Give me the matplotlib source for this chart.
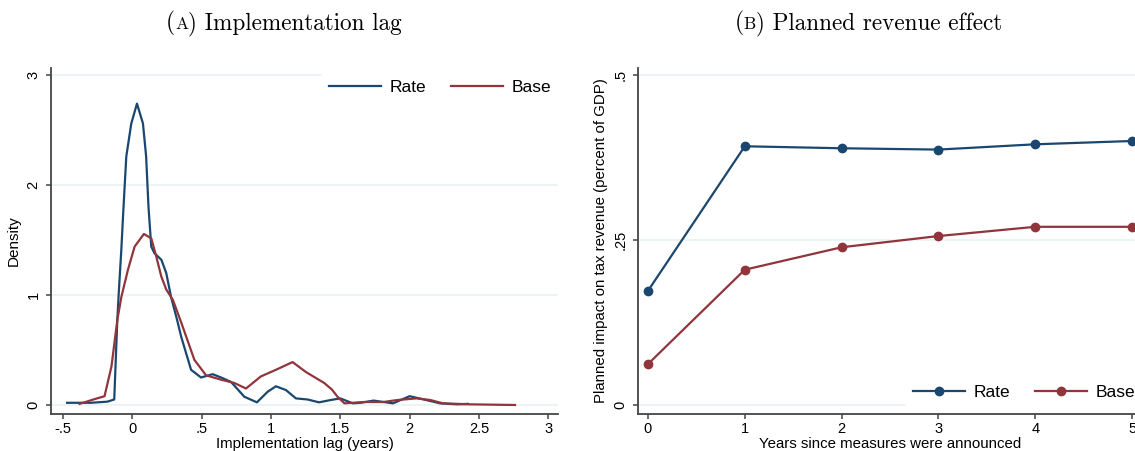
import numpy as np
import matplotlib.pyplot as plt

# ---- data ----
# panel A: kernel densities of the implementation lag
rate_lag_x = [-0.47, -0.3, -0.18, -0.13, -0.108, -0.096, -0.079, -0.063, -0.043, -0.007,
              0.034, 0.077, 0.10, 0.117, 0.137, 0.16, 0.21, 0.245, 0.28, 0.324, 0.353,
              0.424, 0.496, 0.58, 0.64, 0.712, 0.808, 0.899, 0.976, 1.036, 1.108, 1.18,
              1.264, 1.347, 1.43, 1.50, 1.59, 1.647, 1.74, 1.88, 2.0, 2.12, 2.22, 2.34, 2.42]
rate_lag_y = [0.02, 0.02, 0.03, 0.05, 0.77, 1.05, 1.41, 1.80, 2.26, 2.56,
              2.74, 2.56, 2.26, 1.80, 1.44, 1.38, 1.32, 1.2, 0.98, 0.77, 0.62,
              0.32, 0.25, 0.28, 0.25, 0.21, 0.075, 0.024, 0.12, 0.17, 0.136, 0.06,
              0.05, 0.024, 0.045, 0.06, 0.015, 0.02, 0.04, 0.015, 0.08, 0.045, 0.015, 0.006, 0.01]
base_lag_x = [-0.38, -0.28, -0.2, -0.15, -0.108, -0.079, -0.031, 0.017, 0.084, 0.137,
              0.173, 0.209, 0.245, 0.293, 0.353, 0.448, 0.532, 0.64, 0.736, 0.82, 0.928,
              1.036, 1.156, 1.252, 1.384, 1.44, 1.48, 1.53, 1.67, 1.81, 1.91, 2.05, 2.15,
              2.24, 2.43, 2.76]
base_lag_y = [0.01, 0.05, 0.08, 0.35, 0.77, 0.98, 1.23, 1.44, 1.555, 1.515,
              1.35, 1.17, 1.05, 0.955, 0.75, 0.41, 0.27, 0.23, 0.20, 0.15, 0.26,
              0.32, 0.39, 0.30, 0.20, 0.14, 0.075, 0.015, 0.027, 0.027, 0.045, 0.06, 0.045,
              0.015, 0.006, 0.0]
lag_ticks = [-0.5, 0, 0.5, 1, 1.5, 2, 2.5, 3]
lag_ticklabels = ['-.5', '0', '.5', '1', '1.5', '2', '2.5', '3']
dens_ticks = [0, 1, 2, 3]

# panel B: planned revenue effect
years = [0, 1, 2, 3, 4, 5]
rate_rev = [0.173, 0.392, 0.389, 0.387, 0.395, 0.400]
base_rev = [0.062, 0.205, 0.239, 0.256, 0.270, 0.270]
rev_ticks = [0, 0.25, 0.5]
rev_ticklabels = ['0', '.25', '.5']

BLUE = '#1a476f'
RED = '#90353b'
GRID = '#eaf2f3'
AXC = '#444444'

plt.rcParams['font.family'] = ['Liberation Sans', 'DejaVu Sans']

fig = plt.figure(figsize=(11.35, 4.51), dpi=100)
W, H = 1135, 451


def px_axes(l, r, t, b):
    return fig.add_axes([l / W, 1 - b / H, (r - l) / W, (b - t) / H])


def style(ax):
    for s in ['top', 'right']:
        ax.spines[s].set_visible(False)
    for s in ['left', 'bottom']:
        ax.spines[s].set_color(AXC)
        ax.spines[s].set_linewidth(1.3)
    ax.tick_params(colors=AXC, labelcolor='black', length=3.5, width=1.1, labelsize=10.5)
    ax.tick_params(axis='x', pad=2.5)
    ax.tick_params(axis='y', labelrotation=90, pad=4)
    for lab in ax.get_yticklabels():
        lab.set_va('center')
    ax.grid(axis='y', color=GRID, lw=1.2)
    ax.set_axisbelow(True)


def sc_title(xc, y, letter, rest, size=16.7):
    # "(A) Title" with the letter in small caps, centred on xc (pixels)
    r = fig.canvas.get_renderer()
    pieces = [('(', size), (letter, size * 0.75), (') ' + rest, size)]
    texts = []
    x = 0
    for s, fs in pieces:
        t = fig.text(0, 1 - y / H, s, family='cmr10', fontsize=fs, va='baseline', ha='left')
        w = t.get_window_extent(r).width
        texts.append((t, x))
        x += w
    x0 = xc - x / 2
    for t, off in texts:
        t.set_x((x0 + off) / W)


def white_legend(ax, **kw):
    leg = ax.legend(ncol=2, fontsize=12.5, frameon=True, fancybox=False,
                    handlelength=3.0, columnspacing=1.4, handletextpad=0.5,
                    borderaxespad=0.0, **kw)
    leg.get_frame().set_facecolor('white')
    leg.get_frame().set_edgecolor('white')
    leg.get_frame().set_alpha(1)
    return leg


# ---- panel A ----
ax1 = px_axes(51, 558, 68, 414)
ax1.plot(rate_lag_x, rate_lag_y, color=BLUE, lw=1.6, label='Rate')
ax1.plot(base_lag_x, base_lag_y, color=RED, lw=1.6, label='Base')
ax1.set_xlim(-0.586, 3.07)
ax1.set_ylim(-0.082, 3.064)
ax1.set_xticks(lag_ticks)
ax1.set_xticklabels(lag_ticklabels)
ax1.set_yticks(dens_ticks)
style(ax1)
ax1.set_ylabel('Density', fontsize=11, labelpad=4)
ax1.set_xlabel('Implementation lag (years)', fontsize=10.8, labelpad=0.5)
white_legend(ax1, loc='upper right', bbox_to_anchor=(1.0, 0.985))

# ---- panel B ----
ax2 = px_axes(638, 1142, 68, 414)
ax2.plot(years, rate_rev, color=BLUE, lw=1.6, marker='o', ms=6, label='Rate')
ax2.plot(years, base_rev, color=RED, lw=1.6, marker='o', ms=6, label='Base')
ax2.set_xlim(-0.103, 5.103)
ax2.set_ylim(-0.0136, 0.5106)
ax2.set_xticks(years)
ax2.set_yticks(rev_ticks)
ax2.set_yticklabels(rev_ticklabels)
style(ax2)
ax2.set_ylabel('Planned impact on tax revenue (percent of GDP)', fontsize=10.8, labelpad=4)
ax2.set_xlabel('Years since measures were announced', fontsize=10.8, labelpad=0.5)
white_legend(ax2, loc='lower right', bbox_to_anchor=(1.0, 0.02))

sc_title(284, 29, 'A', 'Implementation lag')
sc_title(868, 29, 'B', 'Planned revenue effect')

fig.savefig('out.png', dpi=100)
